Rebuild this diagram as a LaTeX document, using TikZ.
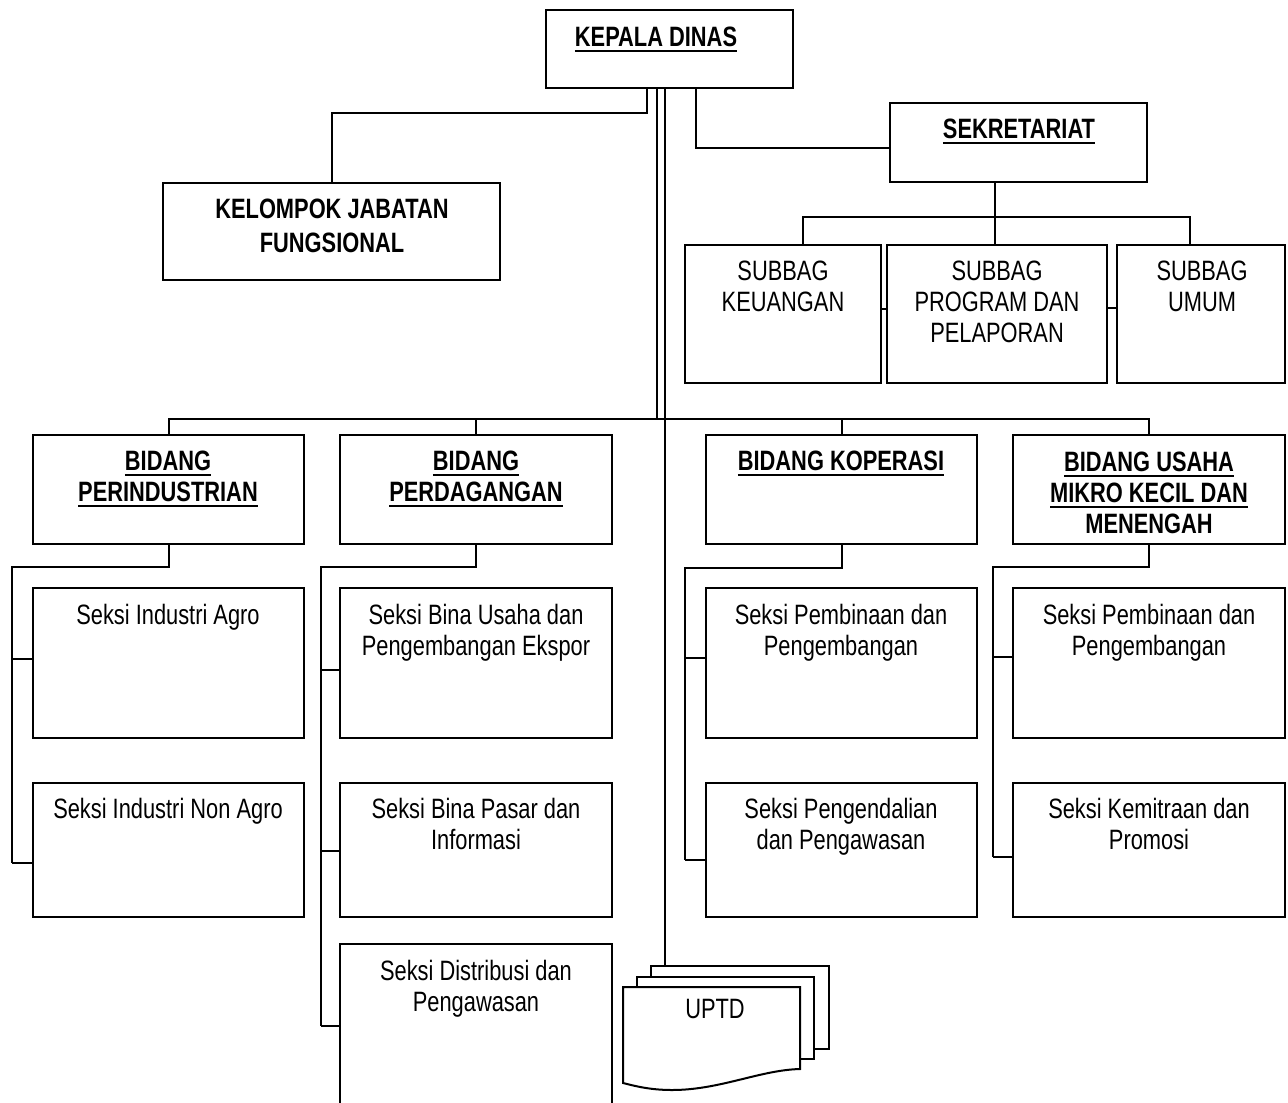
\documentclass[tikz,border=0pt]{standalone}
\usepackage{fontspec}
\setmainfont{Liberation Sans}[FakeStretch=0.78]
\newcommand{\ulb}[1]{\leavevmode\setbox0=\hbox{#1}\rlap{\rule[-2.6pt]{\wd0}{1pt}}\box0}
\newcommand{\obox}[5]{\node[box, minimum width={(#4-#2)*0.5pt}, minimum height={(#5-#3)*0.5pt}] (#1) at ({(#2+#4)/2},{(#3+#5)/2}) {};}
\tikzset{
  box/.style={draw, line width=1pt, fill=white, rectangle, inner sep=0pt, outer sep=0pt},
  lbl/.style={align=center, inner sep=0pt, anchor=north, font=\fontsize{14}{15.5}\selectfont},
  blbl/.style={lbl, font=\bfseries\fontsize{14}{15.5}\selectfont},
  conn/.style={line width=1pt},
}
\begin{document}
\begin{tikzpicture}[x=0.5pt, y=-0.5pt]
\clip (0,0) rectangle (1288,1102);
\fill[white] (0,0) rectangle (1288,1102);
% boxes
\obox{kd}{546}{10}{793}{88}
\obox{kel}{163}{183}{500}{280}
\obox{sek}{890}{103}{1147}{182}
\obox{sk}{685}{245}{881}{383}
\obox{sp}{887}{245}{1107}{383}
\obox{su}{1117}{245}{1285}{383}
\obox{bp}{33}{435}{304}{544}
\obox{bd}{340}{435}{612}{544}
\obox{bk}{706}{435}{977}{544}
\obox{bu}{1013}{435}{1285}{544}
\obox{sa}{33}{588}{304}{738}
\obox{sb}{33}{783}{304}{917}
\obox{da}{340}{588}{612}{738}
\obox{db}{340}{783}{612}{917}
\obox{dc}{340}{944}{612}{1112}
\obox{ka}{706}{588}{977}{738}
\obox{kb}{706}{783}{977}{917}
\obox{ua}{1013}{588}{1285}{738}
\obox{ub}{1013}{783}{1285}{917}
% UPTD sheets
\obox{uptdb}{651}{966}{829}{1049}
\obox{uptdm}{637}{977}{814}{1059}
\draw[line width=1pt, fill=white] (623,987) -- (800,987) -- (800,1069)
  .. controls (760,1070) and (720,1090) .. (672,1090)
  .. controls (650,1090) and (635,1086) .. (623,1083) -- cycle;
% texts
\node[blbl] (tkd) at (656,27) {\ulb{KEPALA DINAS}};
\node[blbl] (tsek) at (1019,119) {\ulb{SEKRETARIAT}};
\node[blbl, font=\bfseries\fontsize{14}{17}\selectfont] (tkel) at (332,199) {KELOMPOK JABATAN\\FUNGSIONAL};
\node[lbl] (tsk) at (783,261) {SUBBAG\\KEUANGAN};
\node[lbl] (tsp) at (997,261) {SUBBAG\\PROGRAM DAN\\PELAPORAN};
\node[lbl] (tsu) at (1202,261) {SUBBAG\\UMUM};
\node[blbl] (tbp) at (168,451) {\ulb{BIDANG}\\\ulb{PERINDUSTRIAN}};
\node[blbl] (tbd) at (476,451) {\ulb{BIDANG}\\\ulb{PERDAGANGAN}};
\node[blbl] (tbk) at (841,451) {\ulb{BIDANG KOPERASI}};
\node[blbl] (tbu) at (1149,452) {\ulb{BIDANG USAHA}\\\ulb{MIKRO KECIL DAN}\\MENENGAH};
\node[lbl] (tsa) at (168,604) {Seksi Industri Agro};
\node[lbl] (tsb) at (168,798) {Seksi Industri Non Agro};
\node[lbl] (tda) at (476,604) {Seksi Bina Usaha dan\\Pengembangan Ekspor};
\node[lbl] (tdb) at (476,798) {Seksi Bina Pasar dan\\Informasi};
\node[lbl] (tdc) at (476,960) {Seksi Distribusi dan\\Pengawasan};
\node[lbl] (tka) at (841,604) {Seksi Pembinaan dan\\Pengembangan};
\node[lbl] (tkb) at (841,798) {Seksi Pengendalian\\dan Pengawasan};
\node[lbl] (tua) at (1149,604) {Seksi Pembinaan dan\\Pengembangan};
\node[lbl] (tub) at (1149,798) {Seksi Kemitraan dan\\Promosi};
\node[lbl] (tuptd) at (715,999) {UPTD};
% connectors from Kepala Dinas
\draw[conn] (kd.south -| 647,0) -- (647,113) -| (kel.north);
\draw[conn] (kd.south -| 696,0) -- (696,148) -- (sek.west |- 0,148);
\draw[conn] (kd.south -| 657,0) -- (657,419);
\draw[conn] (kd.south -| 665,0) -- (uptdb.north -| 665,0);
% sekretariat
\draw[conn] (sek.south -| 995,0) -- (995,217);
\draw[conn] (sk.north -| 803,0) -- (803,217) -- (1190,217) -- (su.north -| 1190,0);
\draw[conn] (995,217) -- (sp.north -| 995,0);
\draw[conn] (sk.east |- 0,309) -- (sp.west |- 0,309);
\draw[conn] (sp.east |- 0,308) -- (su.west |- 0,308);
% bidang bar
\draw[conn] (bp.north) -- (bp.north |- 0,419) -- (bu.north |- 0,419) -- (bu.north);
\draw[conn] (bd.north) -- (bd.north |- 0,419);
\draw[conn] (bk.north) -- (bk.north |- 0,419);
% perindustrian
\draw[conn] (bp.south) -- (bp.south |- 0,567) -- (12,567) -- (12,863);
\draw[conn] (12,659) -- (sa.west |- 0,659);
\draw[conn] (12,863) -- (sb.west |- 0,863);
% perdagangan
\draw[conn] (bd.south) -- (bd.south |- 0,567) -- (321,567) -- (321,1026);
\draw[conn] (321,670) -- (da.west |- 0,670);
\draw[conn] (321,851) -- (db.west |- 0,851);
\draw[conn] (321,1026) -- (dc.west |- 0,1026);
% koperasi
\draw[conn] (bk.south) -- (bk.south |- 0,568) -- (685,568) -- (685,860);
\draw[conn] (685,658) -- (ka.west |- 0,658);
\draw[conn] (685,860) -- (kb.west |- 0,860);
% umkm
\draw[conn] (bu.south) -- (bu.south |- 0,567) -- (993,567) -- (993,857);
\draw[conn] (993,657) -- (ua.west |- 0,657);
\draw[conn] (993,857) -- (ub.west |- 0,857);
\end{tikzpicture}
\end{document}
